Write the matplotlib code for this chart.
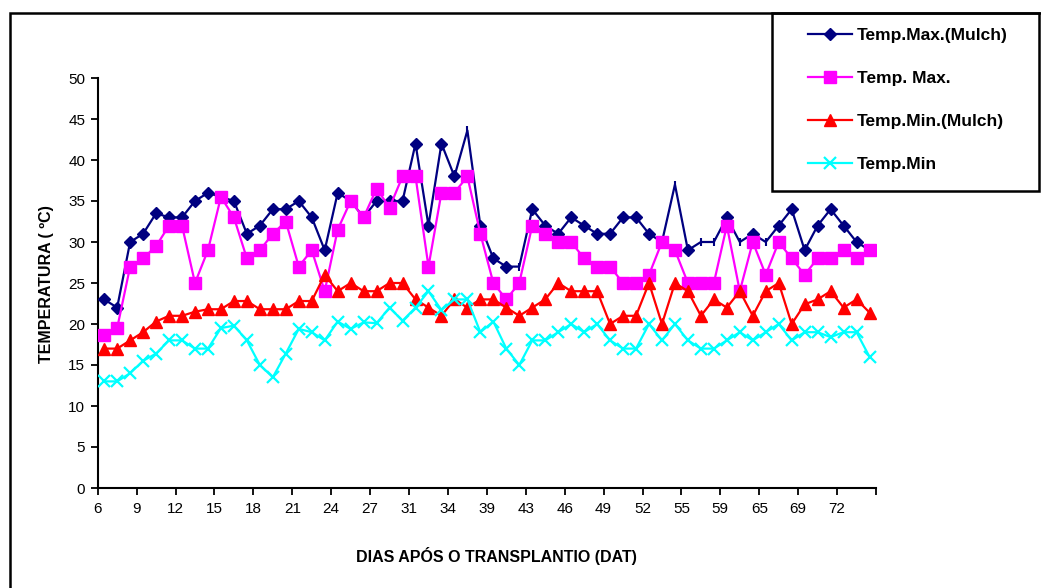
import matplotlib.pyplot as plt
from matplotlib.patches import Rectangle
from matplotlib.lines import Line2D
import numpy as np

plt.rcParams['font.family'] = ['Liberation Sans', 'DejaVu Sans']

# dias (rotulos a cada 3 pontos)
tick_labels = ['6', '9', '12', '15', '18', '21', '24', '27', '31', '34',
               '39', '43', '46', '49', '52', '55', '59', '65', '69', '72']

tmax_mulch = [23, 22, 30, 31, 33.5, 33, 33, 35, 36, 35.5, 35, 31, 32, 34, 34, 35, 33, 29, 36, 35, 33, 35, 35,
              35, 42, 32, 42, 38, 43.6, 32, 28, 27, 27, 34, 32, 31, 33, 32, 31, 31, 33, 33,
              31, 30, 37, 29, 30, 30, 33, 30, 31, 30, 32, 34, 29, 32, 34, 32, 30, 29]
tmax = [18.6, 19.5, 27, 28, 29.5, 32, 32, 25, 29, 35.5, 33, 28, 29, 31, 32.5, 27, 29, 24, 31.5, 35, 33, 36.5, 34.2,
        38, 38, 27, 36, 36, 38, 31, 25, 23, 25, 32, 31, 30, 30, 28, 27, 27, 25, 25,
        26, 30, 29, 25, 25, 25, 32, 24, 30, 26, 30, 28, 26, 28, 28, 29, 28, 29]
tmin_mulch = [17, 17, 18, 19, 20.3, 21, 21, 21.5, 21.8, 21.8, 22.8, 22.8, 21.8, 21.8, 21.8, 22.8, 22.8, 26, 24, 25, 24, 24, 25,
              25, 23, 22, 21, 23, 22, 23, 23, 22, 21, 22, 23, 25, 24, 24, 24, 20, 21, 21,
              25, 20, 25, 24, 21, 23, 22, 24, 21, 24, 25, 20, 22.4, 23, 24, 22, 23, 21.4]
tmin = [13, 13, 14, 15.5, 16.4, 18, 18, 17, 17, 19.5, 19.8, 18, 15, 13.5, 16.4, 19.4, 19, 18, 20.3, 19.4, 20.2, 20.1, 22,
        20.4, 22, 24, 21.7, 23, 23, 19, 20.3, 17, 15, 18, 18, 19, 20, 19, 20, 18, 17, 17,
        20, 18, 20, 18, 17, 17, 18, 19, 18, 19, 20, 18, 19, 19, 18.4, 19, 19, 16]

# pontos da serie azul sem marcador no original
no_marker = [28, 32, 44, 46, 47, 49, 51]

W, H = 1041, 588
fig = plt.figure(figsize=(W / 100, H / 100), dpi=100)
ax = fig.add_axes([97.7 / W, 1 - 488 / H, (876 - 97.7) / W, (488 - 78) / H])

n = len(tmax_mulch)
x = np.arange(n) + 0.5
mk_blue = [i for i in range(n) if i not in no_marker]

ax.plot(x, tmax_mulch, color='#000080', lw=1.6, marker='D', ms=6.5, markevery=mk_blue, zorder=3)
ax.plot(x[no_marker], np.array(tmax_mulch)[no_marker], ls='none', marker='|', ms=6,
        mew=1.5, color='#000080', zorder=3)
ax.plot(x, tmax, color='#FF00FF', lw=1.6, marker='s', ms=8, zorder=4)
ax.plot(x, tmin_mulch, color='#FF0000', lw=1.6, marker='^', ms=8, zorder=5)
ax.plot(x, tmin, color='#00FFFF', lw=1.6, marker='x', ms=8, mew=1.6, zorder=6)

ax.set_xlim(0, n)
ax.set_ylim(0, 50)
ax.set_yticks(range(0, 51, 5))
ax.set_xticks(range(0, n + 1, 3))
ax.set_xticklabels(tick_labels + [''])
ax.spines['top'].set_visible(False)
ax.spines['right'].set_visible(False)
for s in ['left', 'bottom']:
    ax.spines[s].set_linewidth(1.5)
ax.tick_params(direction='out', length=5, width=1.3, labelsize=11, colors='black')
ax.tick_params(axis='y', pad=4)
ax.tick_params(axis='x', pad=5)

fig.text(47 / W, 1 - 284 / H, 'TEMPERATURA ( ºC)', rotation=90, ha='center', va='center',
         fontsize=11.5, fontweight='bold')
fig.text(496 / W, 1 - 556 / H, 'DIAS APÓS O TRANSPLANTIO (DAT)', ha='center', va='center',
         fontsize=11.5, fontweight='bold')

# moldura externa e caixa da legenda
fig.add_artist(Rectangle((10 / W, -0.1), 1.2, 1 - 13 / H + 0.1, transform=fig.transFigure,
                         fill=False, ec='black', lw=1.8))
fig.add_artist(Rectangle((772 / W, 1 - 191 / H), (1039 - 772) / W, (191 - 13) / H,
                         transform=fig.transFigure, fill=False, ec='black', lw=1.8))

handles = [
    Line2D([], [], color='#000080', lw=1.6, marker='D', ms=6.5),
    Line2D([], [], color='#FF00FF', lw=1.6, marker='s', ms=8),
    Line2D([], [], color='#FF0000', lw=1.6, marker='^', ms=8),
    Line2D([], [], color='#00FFFF', lw=1.6, marker='x', ms=8, mew=1.6),
]
labels = ['Temp.Max.(Mulch)', 'Temp. Max.', 'Temp.Min.(Mulch)', 'Temp.Min']
fig.legend(handles, labels, loc='upper left', bbox_to_anchor=(808 / W, 1 - 28 / H),
           frameon=False, borderpad=0, borderaxespad=0, handlelength=2.55,
           handletextpad=0.25, labelspacing=1.6,
           prop={'weight': 'bold', 'size': 12.5})

fig.savefig('out.png', dpi=100)
